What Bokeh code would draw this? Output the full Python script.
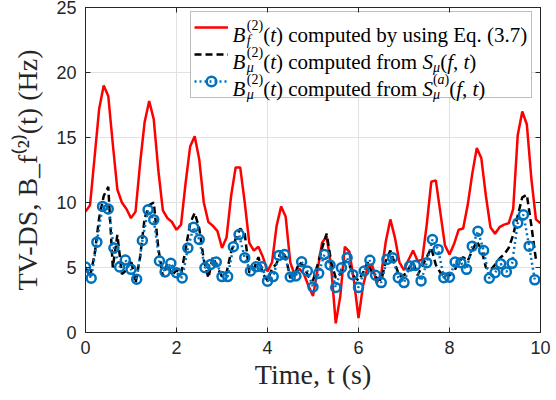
from bokeh.plotting import figure
from bokeh.models import (Legend, LegendItem, Label, LinearAxis, FixedTicker,
                          Range1d, CustomJSTickFormatter, BoxAnnotation)
from bokeh.embed import file_html
from bokeh.resources import INLINE

# ---------------- data ----------------
red_t = [round(0.1 * i, 1) for i in range(101)]
red_v = [9.3, 9.8, 13.5, 17.2, 19.0, 18.2, 14.5, 11.0, 10.0, 9.5,
         8.8, 9.3, 13.0, 16.2, 17.8, 16.4, 12.5, 9.4, 8.8, 8.5,
         7.9, 8.3, 11.5, 14.3, 15.1, 13.3, 10.0, 8.5, 8.2, 7.8,
         6.5, 7.3, 10.5, 12.7, 12.7, 10.0, 6.9, 6.3, 6.6, 5.8,
         4.7, 5.4, 8.2, 9.7, 8.9, 5.4, 4.4, 4.9, 4.5, 3.6,
         2.8, 4.8, 6.9, 7.4, 5.0, 0.7, 2.8, 6.6, 6.2, 4.0,
         1.1, 3.6, 5.0, 5.2, 3.8, 4.5, 7.0, 8.7, 7.3, 5.4,
         4.8, 5.6, 6.3, 5.5, 5.6, 8.3, 11.6, 11.7, 9.2, 6.7,
         6.0, 6.8, 7.9, 8.0, 9.8, 12.2, 14.2, 13.4, 10.5, 8.1,
         7.6, 8.1, 8.3, 8.4, 9.5, 15.2, 17.0, 16.0, 11.8, 8.7,
         8.4]

black_t = [round(0.1 * i, 1) for i in range(100)]
black_v = [5.0, 4.3, 6.0, 8.8, 10.5, 11.2, 5.0, 7.5, 4.5, 4.8,
           5.6, 3.8, 5.8, 8.8, 9.8, 10.0, 6.5, 4.3, 5.3, 4.4,
           4.8, 4.5, 6.4, 8.4, 9.2, 8.0, 5.6, 4.2, 5.8, 5.0,
           4.3, 4.6, 6.2, 7.2, 8.0, 7.6, 4.6, 4.9, 5.8, 4.5,
           4.0, 4.9, 5.3, 6.3, 5.8, 4.2, 4.5, 5.4, 5.1, 4.3,
           4.0, 5.2, 6.5, 7.6, 5.4, 4.2, 4.5, 5.5, 5.2, 4.3,
           4.0, 4.6, 5.4, 4.6, 4.2, 4.0, 5.5, 6.3, 5.3, 4.3,
           4.4, 4.9, 5.4, 4.4, 5.1, 5.8, 6.5, 5.2, 4.6, 4.3,
           4.4, 4.7, 5.4, 5.8, 5.5, 6.3, 7.0, 6.4, 5.0, 4.8,
           5.2, 5.7, 6.0, 6.5, 7.5, 9.0, 10.4, 10.6, 8.2, 5.6]

blue_t = [0.125 * i for i in range(80)]
blue_v = [5.04, 4.17, 6.95, 9.7, 9.5, 6.5, 5.04, 5.57, 4.86, 4.1,
          7.08, 9.44, 8.68, 5.5, 4.66, 5.32, 4.6, 4.2, 6.5, 8.1,
          7.15, 4.98, 5.24, 5.42, 4.3, 4.3, 6.6, 7.53, 5.75, 4.73,
          5.06, 5.06, 3.95, 4.3, 5.93, 6.0, 4.27, 4.35, 5.44, 4.73,
          3.5, 4.55, 6.0, 5.19, 3.46, 4.98, 5.75, 4.45, 3.46, 4.73,
          5.55, 4.4, 3.84, 5.62, 5.75, 4.22, 3.84, 5.11, 5.16, 3.97,
          5.37, 7.15, 6.39, 4.22, 4.25, 5.42, 5.37, 4.86, 6.64, 7.79,
          6.31, 4.17, 4.6, 5.29, 4.66, 5.32, 8.42, 9.06, 6.64, 4.05]

x_ticks = [0, 2, 4, 6, 8, 10]
y_ticks = [0, 5, 10, 15, 20, 25]
x_range = (0, 10)
y_range = (0, 25)
x_label = "Time, t (s)"
y_label = "TV-DS, B_f\u207d\u00b2\u207e(t) (Hz)"

# ---------------- layout ----------------
W, H = 556, 400
BL, BR, BT, BB = 85, 16, 7, 68
FW, FH = W - BL - BR, H - BT - BB
AX = "#262626"
SERIF = "Liberation Serif"


def px2x(px):
    return x_range[0] + (px - BL) / FW * (x_range[1] - x_range[0])


def py2y(py):
    return y_range[0] + (BT + FH - py) / FH * (y_range[1] - y_range[0])


p = figure(width=W, height=H, x_range=Range1d(*x_range), y_range=Range1d(*y_range),
           output_backend="svg", toolbar_location=None,
           min_border_left=BL, min_border_right=BR, min_border_top=BT, min_border_bottom=BB)
p.background_fill_color = "white"
p.border_fill_color = "white"
p.outline_line_color = AX

for ax in list(p.xaxis) + list(p.yaxis):
    ax.major_tick_in = 5
    ax.major_tick_out = 0
    ax.minor_tick_in = 0
    ax.minor_tick_out = 0
    ax.axis_line_color = AX
    ax.major_tick_line_color = AX
    ax.major_label_text_font = "Liberation Sans"
    ax.major_label_text_font_size = "18px"
    ax.major_label_text_color = AX
    ax.axis_label_text_font = SERIF
    ax.axis_label_text_font_style = "normal"
    ax.axis_label_text_font_size = "28px"
    ax.axis_label_text_color = AX
p.xaxis.ticker = FixedTicker(ticks=x_ticks)
p.yaxis.ticker = FixedTicker(ticks=y_ticks)
p.xaxis.major_label_standoff = 8
p.yaxis.major_label_standoff = 9
p.xaxis.axis_label = x_label
p.yaxis.axis_label = y_label
p.xaxis.axis_label_standoff = 2
p.yaxis.axis_label_standoff = 10

for side, tk in (("above", x_ticks), ("right", y_ticks)):
    a = LinearAxis(ticker=FixedTicker(ticks=tk),
                   formatter=CustomJSTickFormatter(code="return ''"),
                   major_tick_in=5, major_tick_out=0, minor_tick_in=0, minor_tick_out=0,
                   major_label_standoff=0, axis_line_color=AX, major_tick_line_color=AX)
    p.add_layout(a, side)

p.xgrid.ticker = FixedTicker(ticks=x_ticks)
p.ygrid.ticker = FixedTicker(ticks=y_ticks)
p.xgrid.grid_line_color = "#e2e2e2"
p.ygrid.grid_line_color = "#e2e2e2"

# ---------------- legend box (drawn under the data, over the grid) ----------------
LEG_LEFT, LEG_TOP = 190, 11
PAD, GW, ROWH, SPC, STANDOFF, LABW = 4, 34, 24, 3, 4, 295
leg_h = 2 * PAD + 3 * ROWH + 2 * SPC
leg_w = 2 * PAD + GW + STANDOFF + LABW
p.add_layout(BoxAnnotation(left=px2x(LEG_LEFT), right=px2x(LEG_LEFT + leg_w),
                           top=py2y(LEG_TOP), bottom=py2y(LEG_TOP + leg_h),
                           fill_color="white", fill_alpha=1.0,
                           line_color=AX, line_width=1, level="underlay"))

# ---------------- glyphs ----------------
r_red = p.line(red_t, red_v, line_color="#ff0000", line_width=2.5)
r_blk = p.line(black_t, black_v, line_color="black", line_width=2.5, line_dash="7 4")
r_blu = p.line(blue_t, blue_v, line_color="#0072bd", line_width=2.5, line_dash="2 3")
r_mk = p.scatter(blue_t, blue_v, marker="circle", size=9, line_color="#0072bd",
                 line_width=2.5, fill_alpha=0)

legend = Legend(items=[LegendItem(label=" ", renderers=[r_red]),
                       LegendItem(label=" ", renderers=[r_blk]),
                       LegendItem(label=" ", renderers=[r_blu, r_mk])],
                location=(LEG_LEFT - BL, (BT + FH) - (LEG_TOP + leg_h)),
                padding=PAD, spacing=SPC, margin=0, glyph_width=GW, glyph_height=ROWH,
                label_height=ROWH, label_width=LABW, label_standoff=STANDOFF,
                border_line_alpha=0, background_fill_alpha=0)
p.add_layout(legend)

# ---------------- legend texts with sub/superscripts ----------------
REG = {' ': 250, '(': 333, ')': 333, ',': 250, '.': 250, '-': 333,
       '0': 500, '1': 500, '2': 500, '3': 500, '7': 500,
       'a': 444, 'b': 500, 'c': 444, 'd': 500, 'e': 444, 'f': 333, 'g': 500,
       'h': 500, 'i': 278, 'l': 278, 'm': 778, 'n': 500, 'o': 500, 'p': 500,
       'q': 500, 'r': 333, 's': 389, 't': 278, 'u': 500, 'y': 500, 'z': 444,
       'D': 722, 'E': 611, 'H': 722, 'S': 556, 'T': 611, 'V': 722}
ITA = {'B': 611, 'S': 500, 'f': 278, 't': 278, 'a': 500, 'μ': 520,
       '(': 333, ')': 333, ',': 250, ' ': 250}


def tw(text, italic, size):
    tbl = ITA if italic else REG
    return sum(tbl.get(ch, 500) for ch in text) * size / 1000.0


def compose(groups, x0, y0, color="black"):
    """x0: pixel start of the text, y0: pixel position of its baseline."""
    out = []
    adv = 0.0
    for g in groups:
        if isinstance(g, (int, float)):
            adv += g
            continue
        gw = 0.0
        for runs, off in g:
            a = adv
            for text, italic, size in runs:
                stripped = text.lstrip(' ')
                a += tw(text[:len(text) - len(stripped)], italic, size)
                out.append(Label(x=px2x(x0 + a), y=py2y(y0 + off), text=stripped,
                                 text_font=SERIF,
                                 text_font_style="italic" if italic else "normal",
                                 text_font_size=f"{size}px", text_align="left",
                                 text_baseline="alphabetic", text_color=color))
                a += tw(stripped, italic, size)
            gw = max(gw, a - adv)
        adv += gw
    return out


R, I = False, True
M, S = 21, 14
SUP, SUB = -10, 5

row1 = [[([("B", I, M)], 0)], 1.5,
        [([("(2)", R, S)], SUP), ([("f", I, S)], SUB)],
        [([("(", R, M), ("t", I, M), (") computed by using Eq. (3.7)", R, M)], 0)]]
row2 = [[([("B", I, M)], 0)], 1.5,
        [([("(2)", R, S)], SUP), ([("μ", I, S)], SUB)],
        [([("(", R, M), ("t", I, M), (") computed from ", R, M), ("S", I, M)], 0)],
        [([("μ", I, S)], SUB)],
        [([("(", R, M), ("f", I, M), (", ", R, M), ("t", I, M), (")", R, M)], 0)]]
row3 = [[([("B", I, M)], 0)], 1.5,
        [([("(2)", R, S)], SUP), ([("μ", I, S)], SUB)],
        [([("(", R, M), ("t", I, M), (") computed from ", R, M), ("S", I, M)], 0)],
        [([("(", R, S), ("a", I, S), (")", R, S)], SUP), ([("μ", I, S)], SUB)],
        [([("(", R, M), ("f", I, M), (", ", R, M), ("t", I, M), (")", R, M)], 0)]]

text_x0 = LEG_LEFT + PAD + GW + STANDOFF
for k, row in enumerate((row1, row2, row3)):
    center = LEG_TOP + PAD + ROWH / 2 + k * (ROWH + SPC)
    for lab in compose(row, text_x0, center + 7.5):
        p.add_layout(lab)

open("out.html", "w").write(file_html(p, INLINE))
